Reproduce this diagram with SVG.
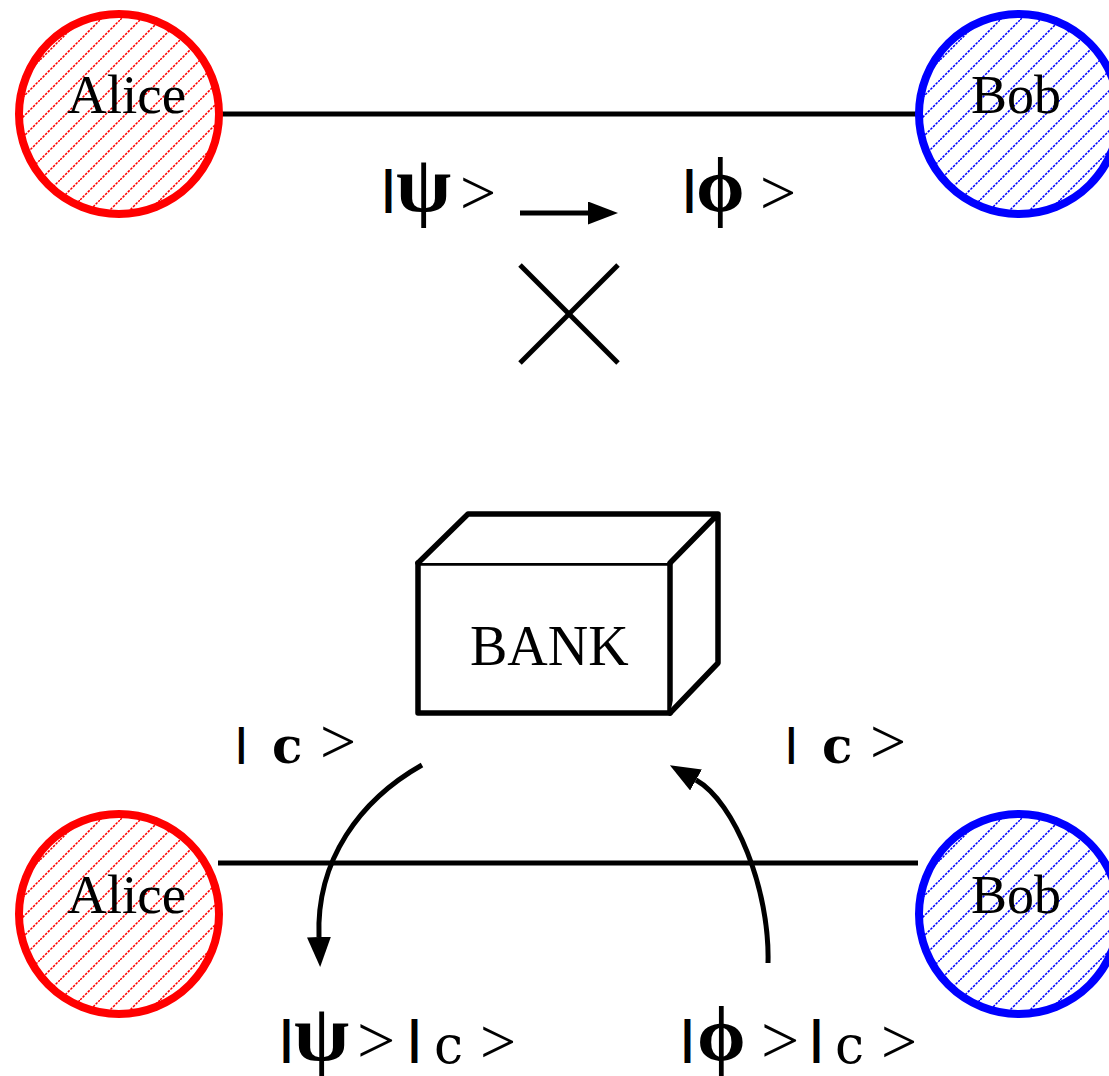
<svg xmlns="http://www.w3.org/2000/svg" width="1109" height="1076" viewBox="0 0 1109 1076">
<style>
.bg{fill:#fff}
.alice{fill:url(#hatchRed);stroke:#ff0000;stroke-width:8}
.bob{fill:url(#hatchBlue);stroke:#0000ff;stroke-width:8}
.name{font-family:"Liberation Serif","Times New Roman",serif;fill:#000}
.ln{stroke:#000;stroke-width:5;fill:none}
.box{stroke:#000;stroke-width:5.5;fill:#fff;stroke-linejoin:round;stroke-linecap:round}
.lbl{font-family:"Liberation Serif","DejaVu Serif",serif;fill:#000}
.bar{font-family:"Liberation Sans",Arial,sans-serif;font-weight:bold}
.gk{font-family:"Liberation Serif","DejaVu Serif",serif;font-weight:bold}
.cb{font-family:"DejaVu Serif",serif;font-weight:bold}
.cr{font-family:"DejaVu Serif",serif}
</style>
<defs>
<pattern id="hatchRed" patternUnits="userSpaceOnUse" width="20" height="20">
<rect width="20" height="20" fill="#fff"/>
<path d="M-5,5 L5,-5 M0,20 L20,0 M15,25 L25,15" stroke="#ff0000" stroke-width="1.5" stroke-dasharray="2.5 1.2"/>
</pattern>
<pattern id="hatchBlue" patternUnits="userSpaceOnUse" width="20" height="20">
<rect width="20" height="20" fill="#fff"/>
<path d="M-5,5 L5,-5 M0,20 L20,0 M15,25 L25,15" stroke="#0000ff" stroke-width="1.5" stroke-dasharray="2.5 1.2"/>
</pattern>
<marker id="head" markerUnits="userSpaceOnUse" markerWidth="32" markerHeight="26" refX="0" refY="12" orient="auto">
<path d="M0,0 L30,12 L0,24 Z" fill="#000"/>
</marker>
<marker id="headS" markerUnits="userSpaceOnUse" markerWidth="32" markerHeight="26" refX="0" refY="11.5" orient="auto">
<path d="M0,0 L30,11.5 L0,23 Z" fill="#000"/>
</marker>
</defs>
<rect class="bg" width="1109" height="1076"/>

<g id="connectors">
<line class="ln" x1="221" y1="114" x2="917" y2="114"/>
<line class="ln" x1="218" y1="863" x2="918" y2="863"/>
<line class="ln" x1="520" y1="213" x2="588" y2="213" marker-end="url(#headS)"/>
<line class="ln" x1="520" y1="265" x2="618" y2="363"/>
<line class="ln" x1="618" y1="265" x2="520" y2="363"/>
<path class="ln" d="M422,765 C360,800 316,860 319,937" marker-end="url(#head)"/>
<path class="ln" d="M768,963 C770,890 735,802 696,780" marker-end="url(#head)"/>
</g>

<g id="alice-top">
<circle class="alice" cx="119" cy="114" r="100"/>
<text class="name" x="67" y="113" font-size="55">Alice</text>
</g>
<g id="bob-top">
<circle class="bob" cx="1019" cy="114" r="100"/>
<text class="name" x="971" y="113" font-size="54">Bob</text>
</g>
<g id="alice-bottom">
<circle class="alice" cx="119" cy="914" r="100"/>
<text class="name" x="67" y="913" font-size="55">Alice</text>
</g>
<g id="bob-bottom">
<circle class="bob" cx="1019" cy="914" r="100"/>
<text class="name" x="971" y="913" font-size="54">Bob</text>
</g>

<g id="bank">
<rect class="box" x="418" y="563" width="252" height="150"/>
<path class="box" fill="none" d="M418,563 L468,514 L718,514 L670,563 M718,514 L718,663 L670,713"/>
<text class="name" x="470" y="665" font-size="56">BANK</text>
</g>

<g id="labels">
<text class="lbl"><tspan class="bar" x="382" y="203" font-size="46">|</tspan><tspan class="gk" x="396" y="211" font-size="80">ψ</tspan><tspan x="460" y="214" font-size="64">&gt;</tspan></text>
<text class="lbl"><tspan class="bar" x="683" y="203" font-size="46">|</tspan><tspan class="gk" x="696" y="211" font-size="78">ϕ</tspan><tspan x="760" y="214" font-size="64">&gt;</tspan></text>
<text class="lbl"><tspan class="bar" x="236" y="755" font-size="38">|</tspan><tspan class="cb" x="272" y="763" font-size="50">c</tspan><tspan x="320" y="763" font-size="64">&gt;</tspan></text>
<text class="lbl"><tspan class="bar" x="786" y="755" font-size="38">|</tspan><tspan class="cb" x="822" y="763" font-size="50">c</tspan><tspan x="870" y="763" font-size="64">&gt;</tspan></text>
<text class="lbl"><tspan class="bar" x="280" y="1053" font-size="46">|</tspan><tspan class="gk" x="294" y="1060" font-size="80">ψ</tspan><tspan x="357" y="1063" font-size="68">&gt;</tspan><tspan class="bar" x="408" y="1053" font-size="46">|</tspan><tspan class="cr" x="434" y="1063" font-size="52">c</tspan><tspan x="480" y="1063" font-size="64">&gt;</tspan></text>
<text class="lbl"><tspan class="bar" x="681" y="1053" font-size="46">|</tspan><tspan class="gk" x="697" y="1060" font-size="78">ϕ</tspan><tspan x="761" y="1063" font-size="68">&gt;</tspan><tspan class="bar" x="810" y="1053" font-size="46">|</tspan><tspan class="cr" x="835" y="1063" font-size="52">c</tspan><tspan x="881" y="1063" font-size="64">&gt;</tspan></text>
</g>
</svg>
